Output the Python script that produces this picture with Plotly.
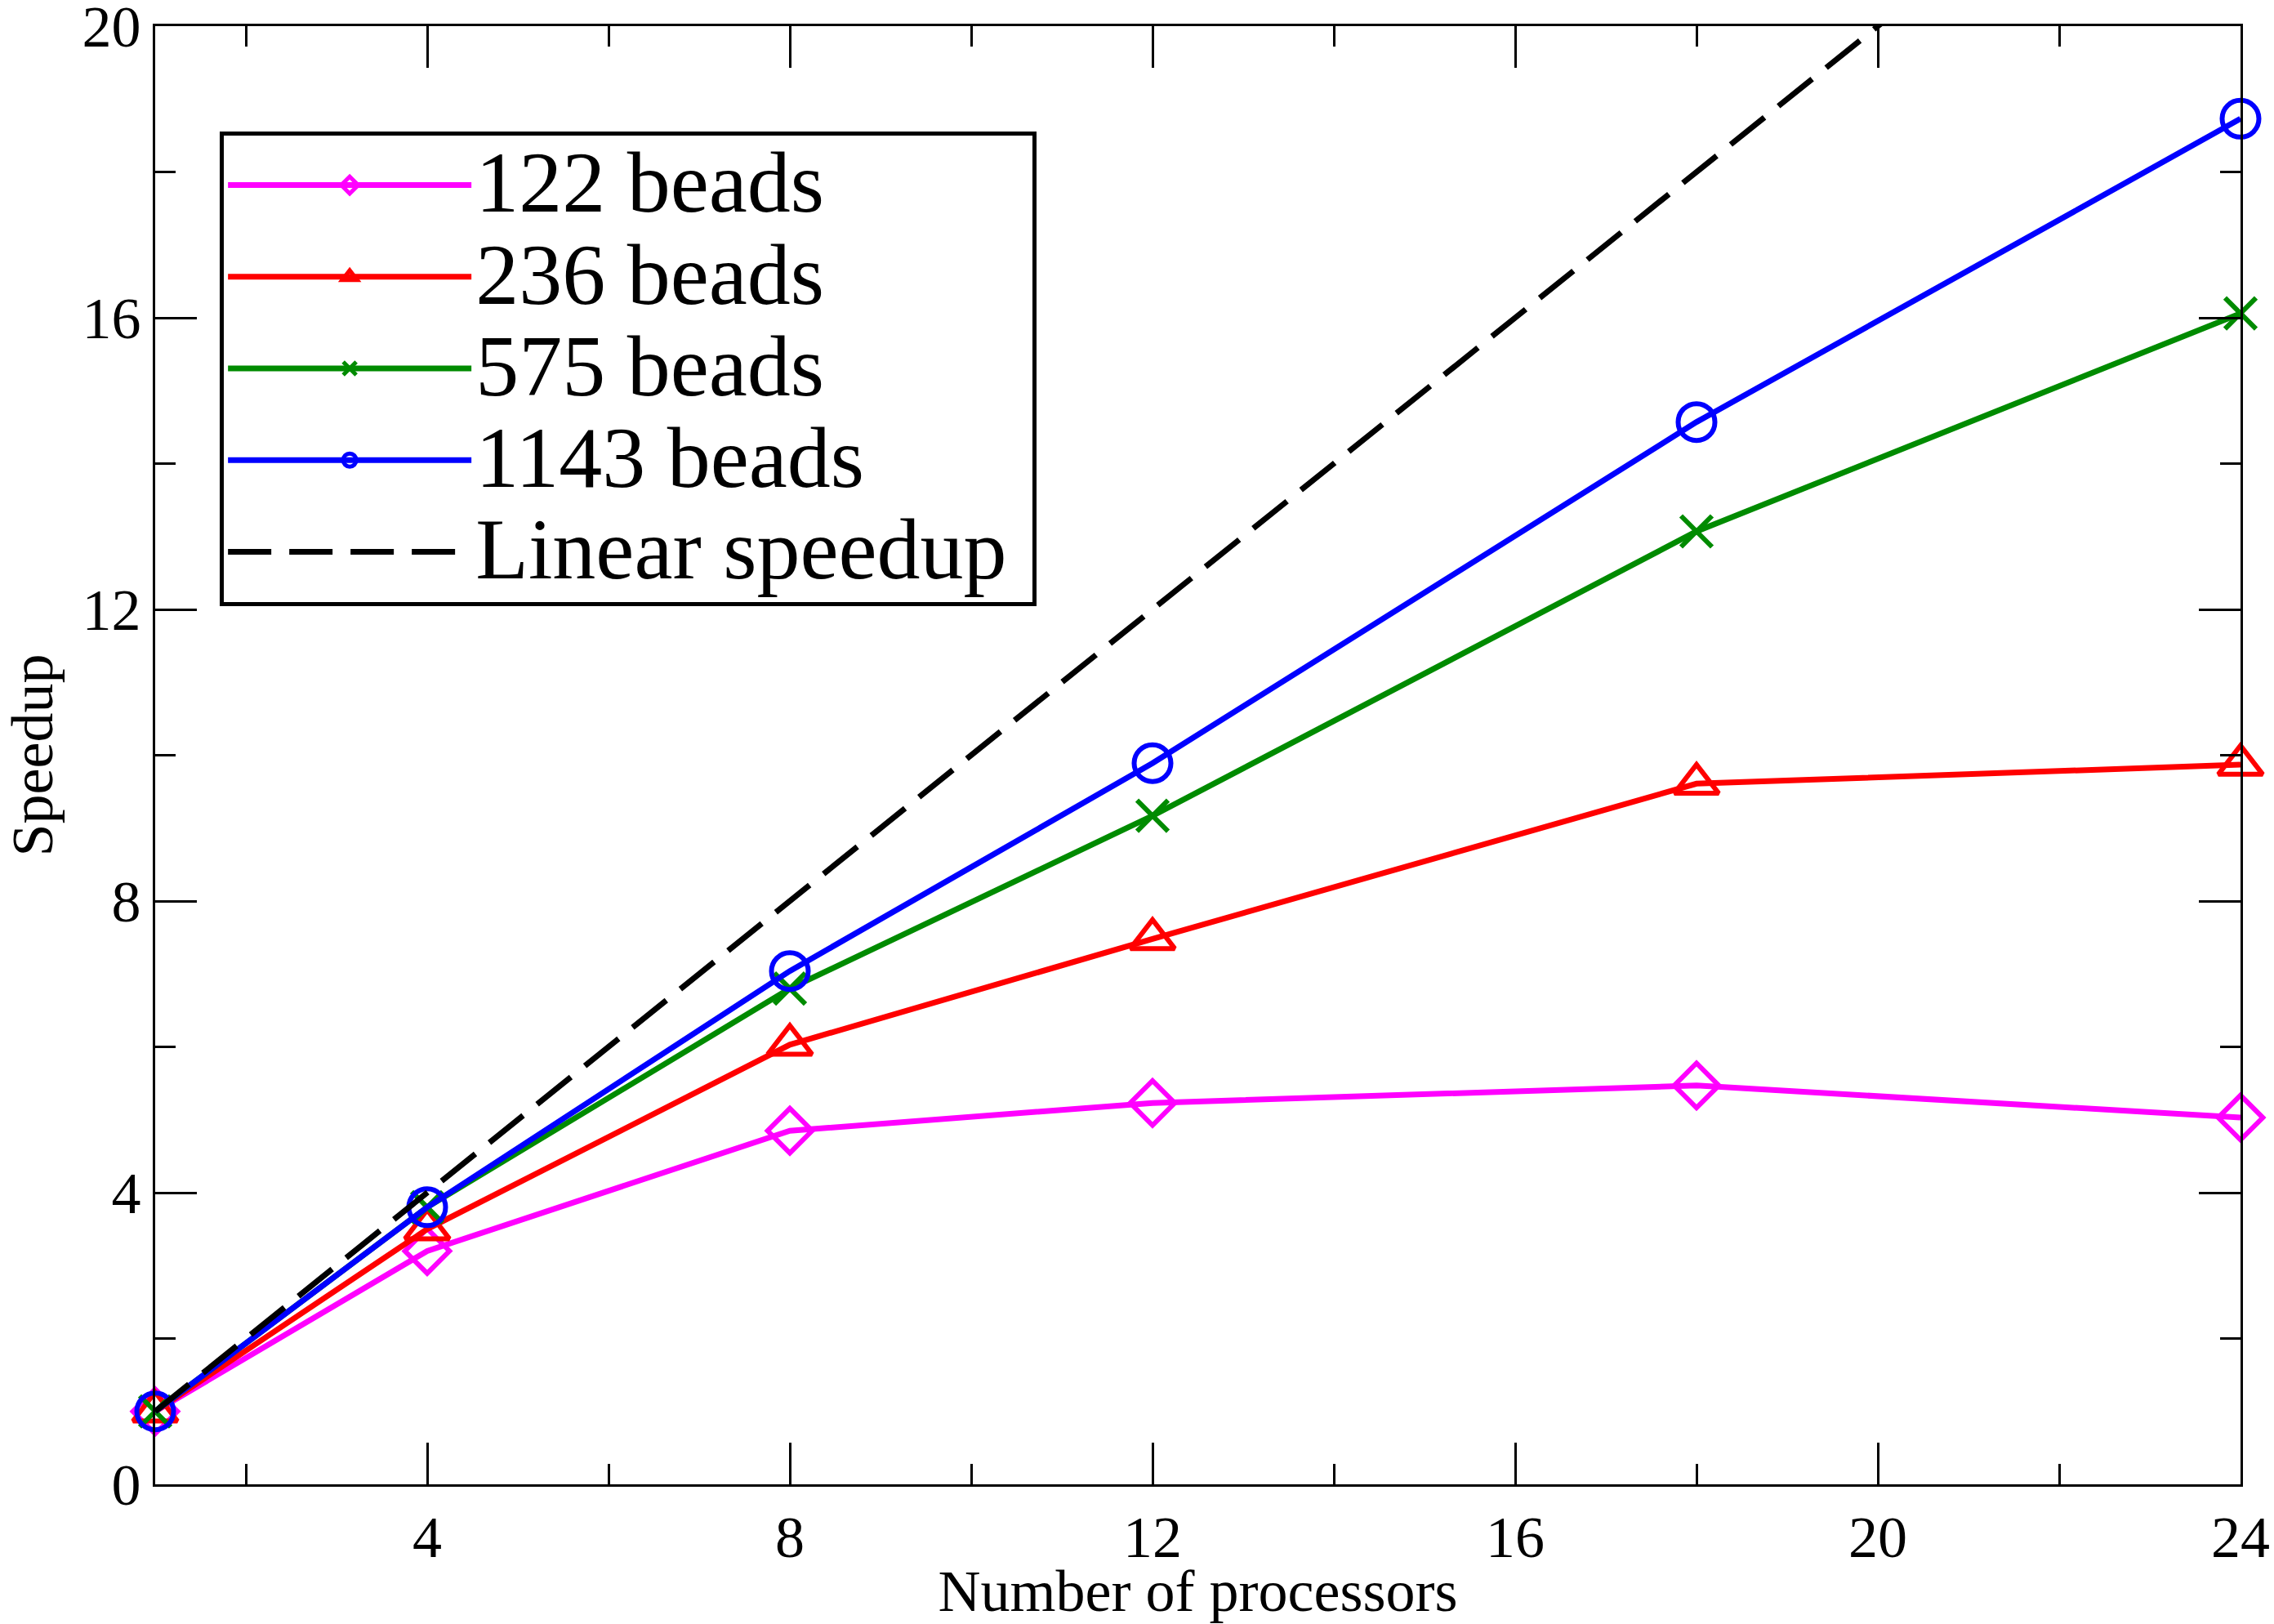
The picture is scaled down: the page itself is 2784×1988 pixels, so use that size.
import plotly.graph_objects as go

processors = [1, 4, 8, 12, 18, 24]
speedup_122 = [1.0, 3.2, 4.85, 5.23, 5.47, 5.03]
speedup_236 = [1.0, 3.5, 6.03, 7.48, 9.61, 9.87]
speedup_575 = [1.0, 3.8, 6.8, 9.17, 13.07, 16.06]
speedup_1143 = [1.0, 3.8, 7.04, 9.89, 14.57, 18.73]
linear_x = [1, 24]
linear_y = [1, 24]

series_names = ["122 beads", "236 beads", "575 beads", "1143 beads"]
series_values = [speedup_122, speedup_236, speedup_575, speedup_1143]
colors = ["#FF00FF", "#FF0000", "#008B00", "#0000FF"]
symbols = ["diamond-open", "triangle-up-open", "x-thin-open", "circle-open"]
sizes = [42, 47, 38, 45]

FONT = "Liberation Serif, Times New Roman, serif"


def big(label):
    return '<span style="font-size:106px">' + label + "</span>"


fig = go.Figure()
for name, vals, col, sym, sz in zip(series_names, series_values, colors, symbols, sizes):
    fig.add_trace(go.Scatter(
        x=processors, y=vals, name=big(name), mode="lines+markers",
        line=dict(color=col, width=7),
        marker=dict(symbol=sym, size=sz, color=col, line=dict(color=col, width=6)),
        cliponaxis=False,
    ))

fig.add_trace(go.Scatter(
    x=linear_x, y=linear_y, name=big("Linear speedup&nbsp;"), mode="lines",
    line=dict(color="black", width=7, dash="53px,22px"),
))

axis_common = dict(
    showline=True, linecolor="black", linewidth=3, mirror="ticks",
    ticks="inside", ticklen=51, tickwidth=3, tickcolor="black",
    showgrid=False, zeroline=False,
    tickfont=dict(family=FONT, size=72, color="black"),
    ticklabeloverflow="allow",
    automargin=False,
)

fig.update_layout(
    width=2784, height=1988,
    margin=dict(l=190, r=41, t=32, b=171),
    paper_bgcolor="white", plot_bgcolor="white",
    font=dict(family=FONT, color="black"),
    xaxis=dict(
        range=[1, 24], tick0=0, dtick=4,
        minor=dict(dtick=2, tick0=0, ticks="inside", ticklen=25, tickwidth=3, tickcolor="black"),
        title=dict(text="Number of processors", font=dict(family=FONT, size=72, color="black"), standoff=4),
        **axis_common,
    ),
    yaxis=dict(
        range=[0, 20], tick0=0, dtick=4,
        minor=dict(dtick=2, tick0=0, ticks="inside", ticklen=25, tickwidth=3, tickcolor="black"),
        title=dict(text="Speedup", font=dict(family=FONT, size=72, color="black"), standoff=22),
        **axis_common,
    ),
    legend=dict(
        x=0.031, y=0.928, xanchor="left", yanchor="top",
        bgcolor="white", bordercolor="black", borderwidth=5,
        font=dict(family=FONT, size=84, color="black"),
        itemwidth=298,
    ),
    showlegend=True,
)

fig.write_html(
    "out.html",
    config={"displayModeBar": False},
    post_script="document.body.style.margin='0px';",
)
